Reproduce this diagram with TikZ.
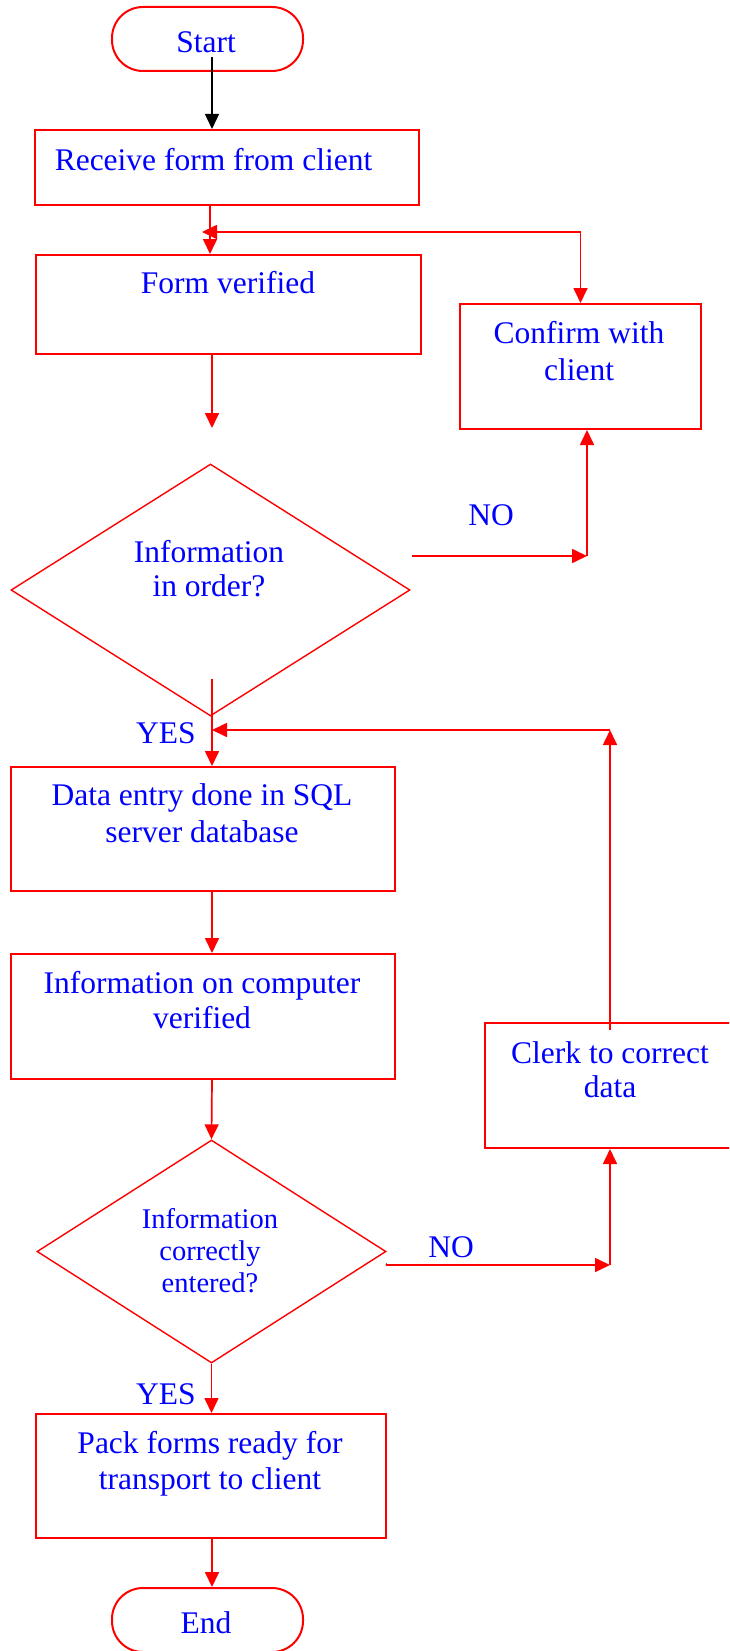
\documentclass[tikz,border=0pt]{standalone}
\usepackage{fontspec}
\setmainfont{Liberation Serif}
\usetikzlibrary{arrows.meta,shapes.geometric}
\definecolor{flowred}{RGB}{255,0,0}
\definecolor{flowblue}{RGB}{0,0,255}

\begin{document}
\begin{tikzpicture}[x=1pt,y=-1pt,
  procbox/.style={draw=flowred,line width=2pt,inner sep=0pt,rectangle},
  termbox/.style={procbox,rounded corners=31pt},
  decbox/.style={draw=flowred,line width=1.4pt,diamond,inner sep=0pt},
  lbl/.style={text=flowblue,font=\fontsize{31.5}{36}\selectfont,anchor=base,inner sep=0pt},
  smalllbl/.style={lbl,font=\fontsize{28.5}{32}\selectfont},
  tip/.style={Triangle[length=15pt,width=14pt]},
  arr/.style={draw=flowred,line width=1.7pt,-{Triangle[length=15pt,width=14pt]}},
  blackarr/.style={draw=black,line width=1.4pt,-{Triangle[length=15pt,width=14pt]}}]
\clip (0,0) rectangle (729,1651);
\fill[white] (0,0) rectangle (729,1651);

% process and terminal boxes
\node[termbox,minimum width=191pt,minimum height=64pt] (start) at (207.5,39) {};
\node[procbox,minimum width=384pt,minimum height=75pt] (recv) at (227,167.5) {};
\node[procbox,minimum width=385pt,minimum height=99pt] (form) at (228.5,304.5) {};
\node[procbox,minimum width=241pt,minimum height=125pt] (conf) at (580.5,366.5) {};
\node[decbox,minimum width=399pt,minimum height=252pt] (q1) at (210.5,590) {};
\node[procbox,minimum width=384pt,minimum height=124pt] (data) at (203,829) {};
\node[procbox,minimum width=384pt,minimum height=125pt] (comp) at (203,1016.5) {};
\node[procbox,minimum width=275pt,minimum height=125pt] (clerk) at (622.5,1085.5) {};
\node[decbox,minimum width=349pt,minimum height=223pt] (q2) at (211.5,1251.5) {};
\node[procbox,minimum width=350pt,minimum height=124pt] (pack) at (211,1476) {};
\node[termbox,minimum width=191pt,minimum height=64pt] (end) at (207.5,1620) {};

% texts
\node[lbl] (start-t) at (206,53) {Start};
\node[lbl] (recv-t) at (213.5,170) {Receive form from client};
\node[lbl] (form-t) at (228,293) {Form verified};
\node[lbl] (conf-t1) at (579,343) {Confirm with};
\node[lbl] (conf-t2) at (579,380) {client};
\node[lbl] (q1-t1) at (209,562) {Information};
\node[lbl] (q1-t2) at (209,596) {in order?};
\node[lbl] (no1) at (491,525) {NO};
\node[lbl] (yes1) at (166,743) {YES};
\node[lbl] (data-t1) at (202,805) {Data entry done in SQL};
\node[lbl] (data-t2) at (202,842) {server database};
\node[lbl] (comp-t1) at (202,993) {Information on computer};
\node[lbl] (comp-t2) at (202,1028) {verified};
\node[lbl] (clerk-t1) at (610,1063) {Clerk to correct};
\node[lbl] (clerk-t2) at (610,1097) {data};
\node[smalllbl] (q2-t1) at (210,1228) {Information};
\node[smalllbl] (q2-t2) at (210,1260) {correctly};
\node[smalllbl] (q2-t3) at (210,1292) {entered?};
\node[lbl] (no2) at (451,1257) {NO};
\node[lbl] (yes2) at (166,1404) {YES};
\node[lbl] (pack-t1) at (210,1453) {Pack forms ready for};
\node[lbl] (pack-t2) at (210,1489) {transport to client};
\node[lbl] (end-t) at (206,1633) {End};

% connector anchors
\coordinate (col) at (210,0);
\coordinate (s0) at (212,57);
\coordinate (j1) at (202,232);
\coordinate (f0) at (212,428);
\coordinate (n1) at (412,556);
\coordinate (n2) at (587,556);
\coordinate (y0) at (212,679);
\coordinate (c0) at (610,1030);
\coordinate (c2) at (610,730);
\coordinate (t1) at (386,1265);
\coordinate (t2) at (610,1265);

% connectors
\draw[blackarr] (s0) -- (s0 |- recv.north);
\draw[arr] (recv.south -| col) -- (form.north -| col);
\draw[arr,{Triangle[length=15pt,width=14pt]}-{Triangle[length=15pt,width=14pt]}]
  (j1) -- (j1 -| conf.north) -- (conf.north);
\draw[arr] (form.south -| f0) -- (f0);
\draw[arr] (n1) -- (n2);
\draw[arr] (n2) -- (n2 |- conf.south);
\draw[arr] (y0) -- (y0 |- data.north);
\draw[arr] (c0) -- (c2);
\draw[arr] (c2) -- (c2 -| y0);
\draw[arr] (data.south -| y0) -- (y0 |- comp.north);
\draw[arr] (comp.south -| y0) -- (q2.north);
\draw[black,line width=1pt] ([yshift=-12pt]q2.east) -- (t1);
\draw[arr] (t1) -- (t2);
\draw[arr] (t2) -- (t2 |- clerk.south);
\draw[arr] (q2.south) -- (q2.south |- pack.north);
\draw[arr] (pack.south -| y0) -- (y0 |- end.north);
\end{tikzpicture}
\end{document}
